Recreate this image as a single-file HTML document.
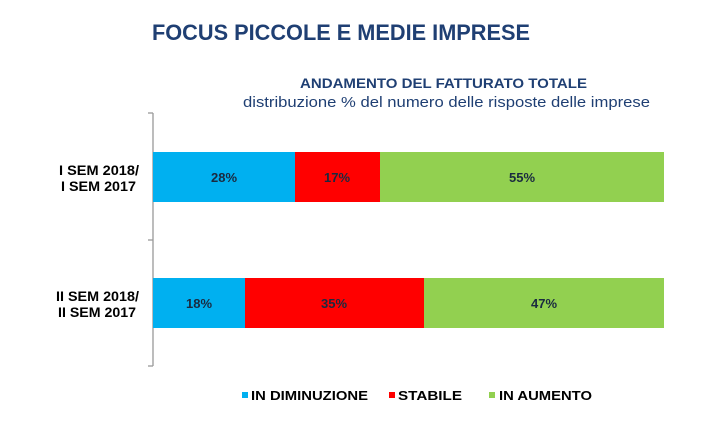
<!DOCTYPE html>
<html><head><meta charset="utf-8"><style>
html,body{margin:0;padding:0;background:#fff;}
svg{display:block;}
</style></head><body>
<svg width="703" height="434" xmlns="http://www.w3.org/2000/svg" font-family="Liberation Sans, sans-serif">
<rect width="703" height="434" fill="#fff"/>
<text x="152" y="40" font-size="22" font-weight="bold" fill="#1F3F73" textLength="378" lengthAdjust="spacingAndGlyphs">FOCUS  PICCOLE E MEDIE IMPRESE</text>
<text x="300" y="88" font-size="14" font-weight="bold" fill="#1F3F73" textLength="287" lengthAdjust="spacingAndGlyphs">ANDAMENTO DEL FATTURATO TOTALE</text>
<text x="243" y="107" font-size="15" fill="#1F3F73" textLength="407" lengthAdjust="spacingAndGlyphs">distribuzione % del numero delle risposte delle imprese</text>
<g stroke="#999" stroke-width="1.3" fill="none">
<line x1="153" y1="113" x2="153" y2="366"/>
<line x1="148" y1="113" x2="153" y2="113"/>
<line x1="148" y1="240" x2="153" y2="240"/>
<line x1="148" y1="366" x2="153" y2="366"/>
</g>
<rect x="153" y="152" width="142" height="50" fill="#00B0F0"/>
<rect x="295" y="152" width="85" height="50" fill="#FF0000"/>
<rect x="380" y="152" width="284" height="50" fill="#92D050"/>
<rect x="153" y="278" width="92" height="50" fill="#00B0F0"/>
<rect x="245" y="278" width="179" height="50" fill="#FF0000"/>
<rect x="424" y="278" width="240" height="50" fill="#92D050"/>
<g font-size="13" font-weight="bold" fill="#1a2a40" text-anchor="middle">
<text x="224" y="182">28%</text>
<text x="337" y="182">17%</text>
<text x="522" y="182">55%</text>
<text x="199" y="308">18%</text>
<text x="334" y="308">35%</text>
<text x="544" y="308">47%</text>
</g>
<g font-size="14" font-weight="bold" fill="#000">
<text x="59" y="175" textLength="80" lengthAdjust="spacingAndGlyphs">I SEM 2018/</text>
<text x="61" y="191" textLength="75" lengthAdjust="spacingAndGlyphs">I SEM 2017</text>
<text x="56" y="301" textLength="83" lengthAdjust="spacingAndGlyphs">II SEM 2018/</text>
<text x="58" y="317" textLength="78" lengthAdjust="spacingAndGlyphs">II SEM 2017</text>
</g>
<rect x="242" y="392" width="6" height="6" fill="#00B0F0"/>
<rect x="389" y="392" width="6" height="6" fill="#FF0000"/>
<rect x="489" y="392" width="6" height="6" fill="#92D050"/>
<g font-size="13" font-weight="bold" fill="#000">
<text x="251" y="400" textLength="117" lengthAdjust="spacingAndGlyphs">IN DIMINUZIONE</text>
<text x="398" y="400" textLength="64" lengthAdjust="spacingAndGlyphs">STABILE</text>
<text x="499" y="400" textLength="93" lengthAdjust="spacingAndGlyphs">IN AUMENTO</text>
</g>
</svg>
</body></html>
